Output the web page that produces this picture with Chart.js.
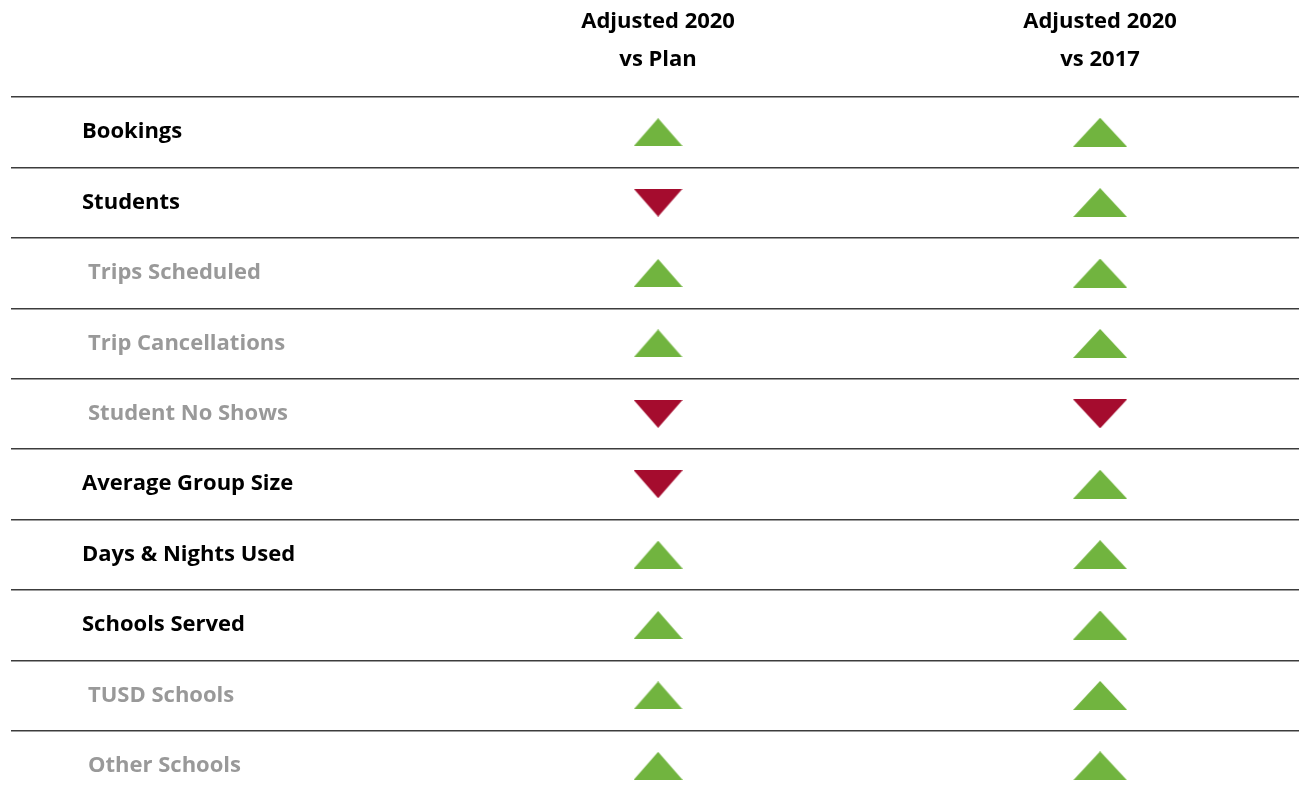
<!DOCTYPE html>
<html lang="en">
<head>
    <meta charset="UTF-8">
    <title>Adjusted 2020 comparison</title>
    <style>
        body { margin: 0; background: #fff; overflow: hidden; }
        .wrap { width: 1299px; height: 794px; }
    </style>
</head>
<body>
    <div class="wrap"><canvas id="trendChart"></canvas></div>

    <script src="https://cdn.jsdelivr.net/npm/chart.js"></script>
<script>
    // rows of the table
    const categories = ['Bookings', 'Students', 'Trips Scheduled', 'Trip Cancellations', 'Student No Shows',
        'Average Group Size', 'Days & Nights Used', 'Schools Served', 'TUSD Schools', 'Other Schools'];
    // sub rows are shown in grey and indented
    const subRow = [false, false, true, true, true, false, false, false, true, true];
    // column headers
    const columns = [['Adjusted 2020', 'vs Plan'], ['Adjusted 2020', 'vs 2017']];
    // 1 = up (green), -1 = down (red)
    const vsPlan = [1, -1, 1, 1, -1, -1, 1, 1, 1, 1];
    const vs2017 = [1, 1, 1, 1, -1, 1, 1, 1, 1, 1];

    const GREEN = '#71b43f';
    const RED = '#a50c2e';

    // build a triangle image to use as point style
    function makeTriangle(w, h, up) {
        const c = document.createElement('canvas');
        c.width = w;
        c.height = h;
        const g = c.getContext('2d');
        g.fillStyle = up ? GREEN : RED;
        g.beginPath();
        if (up) {
            g.moveTo(0, h);
            g.lineTo(w / 2, 0);
            g.lineTo(w, h);
        } else {
            g.moveTo(0, 0);
            g.lineTo(w, 0);
            g.lineTo(w / 2, h);
        }
        g.closePath();
        g.fill();
        return c;
    }

    const shapes = [
        { up: makeTriangle(49, 28, true), down: makeTriangle(49, 28, false) },
        { up: makeTriangle(54, 29, true), down: makeTriangle(54, 29, false) }
    ];

    function makeDataset(values, col) {
        return {
            data: values.map((v, i) => ({ x: col + 1, y: i })),
            pointStyle: ctx => values[ctx.dataIndex] > 0 ? shapes[col].up : shapes[col].down,
            pointRadius: 1,
            pointHoverRadius: 1,
            pointBorderWidth: 0
        };
    }

    // row labels drawn at the left of each row
    const rowLabels = {
        id: 'rowLabels',
        afterDraw(chart) {
            const ctx = chart.ctx;
            const y = chart.scales.y;
            ctx.save();
            ctx.font = 'bold 22px "Open Sans"';
            ctx.textBaseline = 'middle';
            ctx.textAlign = 'left';
            categories.forEach((label, i) => {
                ctx.fillStyle = subRow[i] ? '#999999' : '#000000';
                ctx.fillText(label, subRow[i] ? 88 : 82, y.getPixelForValue(i));
            });
            ctx.restore();
        }
    };

    const ctx = document.getElementById('trendChart').getContext('2d');
    const trendChart = new Chart(ctx, {
        type: 'scatter',
        data: {
            datasets: [makeDataset(vsPlan, 0), makeDataset(vs2017, 1)]
        },
        options: {
            responsive: true,
            maintainAspectRatio: false,
            animation: false,
            layout: { autoPadding: false, padding: { left: 11, right: 0, top: 0, bottom: 0 } },
            plugins: {
                legend: { display: false },
                tooltip: { enabled: false }
            },
            scales: {
                x: {
                    type: 'linear',
                    position: 'top',
                    min: -0.464,
                    max: 2.45,
                    afterBuildTicks: axis => { axis.ticks = columns.map((c, i) => ({ value: i + 1 })); },
                    afterFit: axis => { axis.height = 97; },
                    ticks: {
                        callback: (value) => columns[value - 1],
                        color: '#000',
                        font: { family: 'Open Sans', size: 22, weight: 'bold', lineHeight: '38px' },
                        padding: 18,
                        maxRotation: 0,
                        autoSkip: false
                    },
                    grid: { display: false, drawTicks: false },
                    border: { display: false }
                },
                y: {
                    type: 'linear',
                    reverse: true,
                    min: -0.5,
                    max: 9.4,
                    afterBuildTicks: axis => { axis.ticks = categories.map((c, i) => ({ value: i - 0.5 })); },
                    afterFit: axis => { axis.width = 0; },
                    ticks: { display: false },
                    grid: { color: '#3c3c3c', lineWidth: 1.4, drawTicks: false },
                    border: { display: false }
                }
            }
        },
        plugins: [rowLabels]
    });
</script>
</body>
</html>
